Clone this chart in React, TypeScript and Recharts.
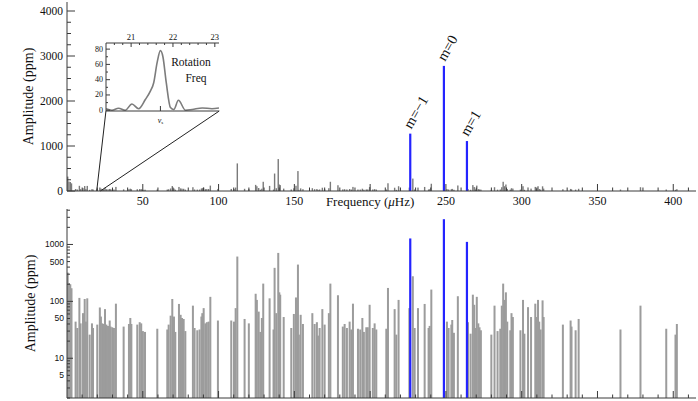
import React from "react";
import { ComposedChart, LineChart, Line, Bar, Cell, XAxis, YAxis, LabelList, ReferenceLine } from "recharts";

// spectrum peaks (uHz, ppm)
const grayFreq = [
  0.5, 1.3, 2.2, 3.0, 5.7, 6.8, 8.2, 9.0, 10.6, 11.7, 12.5, 13.4, 15.0, 16.5, 17.2, 20.0, 21.7, 22.4, 23.3, 24.2,
  25.1, 26.0, 27.1, 28.2, 28.8, 29.9, 31.0, 32.3, 37.4, 40.9, 41.8, 42.5, 46.4, 48.0, 49.0, 50.1, 51.5, 59.6, 66.2, 67.1,
  68.4, 69.5, 70.6, 71.5, 73.9, 75.0, 75.9, 77.0, 78.1, 83.1, 84.2, 86.0, 87.5, 88.7, 89.3, 90.2, 91.3, 92.3, 93.5, 94.6,
  99.6, 108.4, 110.2, 111.3, 112.4, 117.2, 120.0, 124.5, 125.3, 126.5, 127.6, 128.6, 129.5, 133.7, 136.3, 137.0, 138.1, 139.4, 140.1, 140.7,
  143.0, 148.0, 149.7, 151.1, 152.4, 153.0, 154.2, 155.7, 161.9, 163.4, 164.9, 165.6, 166.7, 168.5, 170.0, 172.8, 173.8, 178.8, 182.0, 183.2,
  184.7, 186.5, 187.6, 188.7, 192.0, 193.5, 194.9, 195.9, 197.5, 198.5, 199.7, 201.8, 203.0, 204.1, 210.7, 211.8, 216.2, 217.3, 218.8, 225.9,
  228.2, 229.4, 231.6, 236.0, 238.6, 239.3, 240.4, 250.7, 251.8, 253.6, 254.2, 255.3, 257.9, 264.6, 266.3, 267.8, 268.7, 269.6, 270.4, 271.4,
  272.2, 273.1, 280.0, 282.1, 284.1, 285.9, 286.9, 287.8, 288.7, 289.6, 290.5, 292.5, 293.3, 294.2, 299.2, 300.9, 301.8, 304.2, 306.2, 309.0,
  309.7, 310.8, 311.6, 312.5, 313.8, 314.5, 327.2, 332.3, 332.9, 335.6, 337.6, 365.2, 378.4, 395.4, 401.5, 402.4,
];
const grayAmp = [
  320, 210, 200, 170, 44, 34, 115, 41, 62, 110, 44, 113, 26, 41, 34, 39, 78, 54, 41, 40,
  73, 39, 37, 46, 36, 35, 34, 91, 36, 40, 51, 40, 39, 43, 41, 30, 29, 33, 32, 39,
  56, 110, 54, 29, 90, 58, 51, 49, 30, 84, 34, 31, 32, 54, 62, 76, 41, 43, 44, 120,
  46, 46, 44, 76, 613, 49, 41, 136, 106, 66, 29, 51, 205, 113, 32, 388, 62, 710, 144, 131,
  53, 34, 60, 117, 443, 26, 58, 40, 62, 40, 43, 25, 34, 73, 39, 62, 205, 128, 36, 40,
  34, 44, 32, 91, 33, 32, 51, 29, 35, 35, 87, 34, 41, 32, 33, 172, 73, 26, 106, 76,
  276, 34, 76, 90, 34, 37, 161, 44, 34, 39, 47, 28, 123, 43, 27, 131, 87, 34, 120, 41,
  35, 31, 26, 84, 30, 33, 84, 205, 106, 144, 44, 31, 62, 53, 31, 106, 27, 79, 53, 91,
  53, 106, 44, 32, 104, 53, 39, 46, 36, 31, 49, 32, 84, 33, 26, 40,
];
const modeFreq = [226.5, 248.7, 263.9];
const modeAmp = [1275, 2780, 1110];
const modeLabel = ["m=\u22121", "m=0", "m=1"];

// inset: rotation frequency peak
const insetFreq = [20.4, 20.54, 20.7, 20.86, 21.02, 21.18, 21.34, 21.46, 21.54, 21.62, 21.7, 21.76, 21.84, 21.94, 22.02, 22.13, 22.3, 22.46, 22.7, 22.93, 23.1];
const insetAmp = [2, 0, 2.6, 0, 8.2, 2, 14, 25, 36, 62, 78, 70, 36, 3.5, 1, 13, 0, 1, 3, 2, 3];

// inset zoom connectors: [axis freq, corner freq], corner amplitude
const zoomAxisFreq = [19.6, 22.0];
const zoomCornerFreq = [25.7, 100.5];
const zoomCornerAmp = 1778;

// ticks
const freqTicks = [
  10, 20, 30, 40, 50, 60, 70, 80, 90, 100, 110, 120, 130, 140, 150, 160, 170, 180, 190, 200,
  210, 220, 230, 240, 250, 260, 270, 280, 290, 300, 310, 320, 330, 340, 350, 360, 370, 380, 390, 400, 410,
];
const freqMajor = [50, 100, 150, 200, 250, 300, 350, 400];
const ampTicks = [0, 250, 500, 750, 1000, 1250, 1500, 1750, 2000, 2250, 2500, 2750, 3000, 3250, 3500, 3750, 4000];
const ampMajor = [0, 1000, 2000, 3000, 4000];
const logTicks = [
  2, 3, 4, 5, 6, 7, 8, 9, 10, 20, 30, 40, 50, 60, 70, 80, 90, 100, 200, 300, 400, 500, 600, 700, 800, 900,
  1000, 2000, 3000, 4000,
];
const logMajor = [10, 100, 1000];
const logLabels = [5, 10, 50, 100, 500, 1000];
const insetXTicks = [20.6, 20.8, 21, 21.2, 21.4, 21.6, 21.8, 22, 22.2, 22.4, 22.6, 22.8, 23];
const insetXMajor = [21, 22, 23];
const insetYTicks = [0, 10, 20, 30, 40, 50, 60, 70, 80];
const insetYMajor = [0, 20, 40, 60, 80];
const nuS = 21.7;

const spectrum = [
  ...grayFreq.map((f, i) => ({ freq: f, amp: grayAmp[i], mode: false, label: "" })),
  ...modeFreq.map((f, i) => ({ freq: f, amp: modeAmp[i], mode: true, label: modeLabel[i] })),
];
const insetData = insetFreq.map((f, i) => ({ f, a: insetAmp[i] }));

const AX = "#3a3a3a";
const BLUE = "#2424ff";
const SERIF = "'Liberation Serif', 'Times New Roman', serif";
const SANS = "'Liberation Sans', Arial, sans-serif";

// inward tick marks with optional label
const EdgeTick = (props: any) => {
  const { x, y, payload, side, majors, majLen, minLen, label } = props;
  const v = payload.value;
  const len = majors.includes(v) ? majLen : minLen;
  let line;
  if (side === "left") line = <line x1={x} x2={x + len} y1={y} y2={y} stroke={AX} />;
  else if (side === "right") line = <line x1={x} x2={x - len} y1={y} y2={y} stroke={AX} />;
  else if (side === "top") line = <line x1={x} x2={x} y1={y} y2={y + len} stroke={AX} />;
  else line = <line x1={x} x2={x} y1={y} y2={y - len} stroke={AX} />;
  return (
    <g>
      {line}
      {label ? label(v, x, y) : null}
    </g>
  );
};

const tick = (side: string, majors: number[], majLen: number, minLen: number, label?: any) => (p: any) => (
  <EdgeTick {...p} side={side} majors={majors} majLen={majLen} minLen={minLen} label={label} />
);

const freqLabel = (v: number, x: number, y: number) => {
  if (v === 200)
    return (
      <text x={x} y={y + 10} textAnchor="middle" dominantBaseline="central" fontFamily={SERIF} fontSize={13} fill="#111">
        Frequency (<tspan fontStyle="italic">μ</tspan>Hz)
      </text>
    );
  if (!freqMajor.includes(v)) return null;
  return (
    <text x={x} y={y + 10} textAnchor="middle" dominantBaseline="central" fontFamily={SERIF} fontSize={12} fill="#111">
      {v}
    </text>
  );
};

const ampLabel = (v: number, x: number, y: number) =>
  ampMajor.includes(v) ? (
    <text x={x - 4} y={y} textAnchor="end" dominantBaseline="central" fontFamily={SERIF} fontSize={11.5} fill="#111">
      {v}
    </text>
  ) : null;

const logLabel = (v: number, x: number, y: number) =>
  logLabels.includes(v) ? (
    <text x={x - 3} y={y} textAnchor="end" dominantBaseline="central" fontFamily={SANS} fontSize={8.5} fill="#111">
      {v}
    </text>
  ) : null;

const insetXLabel = (v: number, x: number, y: number) =>
  insetXMajor.includes(v) ? (
    <text x={x} y={y - 6} textAnchor="middle" dominantBaseline="central" fontFamily={SERIF} fontSize={8.5} fill="#111">
      {v}
    </text>
  ) : null;

const insetYLabel = (v: number, x: number, y: number) =>
  insetYMajor.includes(v) ? (
    <text x={x - 3} y={y} textAnchor="end" dominantBaseline="central" fontFamily={SERIF} fontSize={8} fill="#111">
      {v}
    </text>
  ) : null;

const nuLabel = (v: number, x: number, y: number) => (
  <text x={x} y={y + 9} textAnchor="middle" dominantBaseline="central" fontFamily={SERIF} fontSize={8} fill="#111">
    <tspan fontStyle="italic">ν</tspan>
    <tspan fontSize={5} dy={2}>s</tspan>
  </text>
);

const AxisTitle = (cx: number) => (props: any) => {
  const vb = props.viewBox;
  const px = vb.x + cx;
  const py = vb.y + vb.height / 2;
  return (
    <text x={px} y={py} transform={`rotate(-90 ${px} ${py})`} textAnchor="middle" dominantBaseline="central" fontFamily={SERIF} fontSize={14} fill="#111">
      Amplitude (ppm)
    </text>
  );
};

const Spike = (props: any) => {
  const { x, y, width, height, fill, w } = props;
  if (y == null || isNaN(y) || height == null || isNaN(height)) return null;
  const cx = x + width / 2;
  return <rect x={cx - w / 2} y={y} width={w} height={Math.max(height, 0.6)} fill={fill} />;
};

const ModeLabel = (props: any) => {
  const vb = props.viewBox ?? props;
  const { value } = props;
  if (!value) return null;
  const px = vb.x + vb.width / 2 + 1;
  const py = vb.y - 4;
  return (
    <text x={px} y={py} transform={`rotate(-60 ${px} ${py})`} fontFamily={SERIF} fontSize={14.5} fill="#111">
      {value}
    </text>
  );
};

const Spectrum = ({ log, grayW, grayFill }: { log: boolean; grayW: number; grayFill: string }) => {
  const domain = log ? [2, 4200] : [0, 4200];
  const yTicks = log ? logTicks : ampTicks;
  const yMajor = log ? logMajor : ampMajor;
  return (
    <ComposedChart
      width={698}
      height={log ? 214 : 215}
      data={spectrum}
      margin={{ top: 2, right: 2, bottom: 0, left: 0 }}
    >
      <XAxis
        dataKey="freq"
        type="number"
        domain={[0, 415]}
        allowDataOverflow
        ticks={freqTicks}
        interval={0}
        tickSize={0}
        tickMargin={0}
        tickLine={false}
        axisLine={{ stroke: AX }}
        height={log ? 23 : 24}
        tick={tick("bottom", freqMajor, 7, 3.5, log ? undefined : freqLabel)}
      />
      <XAxis
        xAxisId="top"
        orientation="top"
        type="number"
        domain={[0, 415]}
        allowDataOverflow
        ticks={freqTicks}
        interval={0}
        tickSize={0}
        tickMargin={0}
        tickLine={false}
        axisLine={{ stroke: AX }}
        height={0}
        tick={tick("top", freqMajor, 7, 3.5)}
      />
      <YAxis
        type="number"
        scale={log ? "log" : "linear"}
        domain={domain}
        allowDataOverflow
        ticks={yTicks}
        interval={0}
        tickSize={0}
        tickMargin={0}
        tickLine={false}
        axisLine={{ stroke: AX }}
        width={67}
        tick={tick("left", yMajor, log ? 6 : 8, log ? 3 : 4, log ? logLabel : ampLabel)}
        label={{ content: AxisTitle(log ? 30 : 28) }}
      />
      <YAxis
        yAxisId="right"
        orientation="right"
        type="number"
        scale={log ? "log" : "linear"}
        domain={domain}
        allowDataOverflow
        ticks={yTicks}
        interval={0}
        tickSize={0}
        tickMargin={0}
        tickLine={false}
        axisLine={{ stroke: AX }}
        width={0}
        tick={tick("right", yMajor, log ? 6 : 8, log ? 3 : 4)}
      />
      {!log &&
        zoomAxisFreq.map((f, i) => (
          <ReferenceLine
            key={i}
            segment={[
              { x: f, y: 0 },
              { x: zoomCornerFreq[i], y: zoomCornerAmp },
            ]}
            stroke="#222"
            strokeWidth={1}
            ifOverflow="visible"
          />
        ))}
      <Bar
        dataKey="amp"
        barSize={2}
        isAnimationActive={false}
        shape={(p: any) => <Spike {...p} w={p.payload && p.payload.mode ? 2.2 : grayW} />}
      >
        {spectrum.map((d, i) => (
          <Cell key={i} fill={d.mode ? BLUE : grayFill} />
        ))}
        {!log && <LabelList dataKey="label" content={ModeLabel} />}
      </Bar>
    </ComposedChart>
  );
};

const Inset = () => (
  <LineChart width={145} height={104} data={insetData} margin={{ top: 0, right: 2, bottom: 0, left: 0 }}>
    <XAxis
      xAxisId="t"
      orientation="top"
      dataKey="f"
      type="number"
      domain={[20.4, 23.1]}
      allowDataOverflow
      ticks={insetXTicks}
      interval={0}
      tickSize={0}
      tickMargin={0}
      tickLine={false}
      axisLine={{ stroke: AX }}
      height={20}
      tick={tick("top", insetXMajor, 4, 2, insetXLabel)}
    />
    <XAxis
      xAxisId="b"
      orientation="bottom"
      dataKey="f"
      type="number"
      domain={[20.4, 23.1]}
      allowDataOverflow
      ticks={[nuS]}
      interval={0}
      tickSize={0}
      tickMargin={0}
      tickLine={false}
      axisLine={{ stroke: AX }}
      height={16}
      tick={tick("bottom", [nuS], 5, 5, nuLabel)}
    />
    <YAxis
      yAxisId="l"
      type="number"
      domain={[-1, 88]}
      allowDataOverflow
      ticks={insetYTicks}
      interval={0}
      tickSize={0}
      tickMargin={0}
      tickLine={false}
      axisLine={{ stroke: AX }}
      width={30}
      tick={tick("left", insetYMajor, 4, 2, insetYLabel)}
    />
    <YAxis
      yAxisId="r"
      orientation="right"
      type="number"
      domain={[-1, 88]}
      allowDataOverflow
      ticks={insetYTicks}
      interval={0}
      tickSize={0}
      tickMargin={0}
      tickLine={false}
      axisLine={{ stroke: AX }}
      width={0}
      tick={tick("right", insetYMajor, 4, 2)}
    />
    <Line
      xAxisId="b"
      yAxisId="r"
      dataKey="a"
      type="monotone"
      stroke="none"
      strokeWidth={0}
      dot={false}
      isAnimationActive={false}
    />
    <Line
      xAxisId="t"
      yAxisId="l"
      dataKey="a"
      type="monotone"
      stroke="#7c7c7c"
      strokeWidth={1.6}
      dot={false}
      isAnimationActive={false}
    />
  </LineChart>
);

export default function App() {
  return (
    <div
      style={{
        position: "fixed",
        left: 0,
        top: 0,
        width: 698,
        height: 401,
        overflow: "hidden",
        background: "#fff",
      }}
    >
      <div style={{ position: "absolute", left: 0, top: 0 }}>
        <Spectrum log={false} grayW={1.4} grayFill="#7a7a7a" />
      </div>
      <div style={{ position: "absolute", left: 0, top: 207 }}>
        <Spectrum log={true} grayW={2} grayFill="#9c9c9c" />
      </div>
      <div style={{ position: "absolute", left: 76, top: 23 }}>
        <Inset />
      </div>
      <div
        style={{
          position: "absolute",
          left: 161,
          top: 54,
          width: 60,
          textAlign: "center",
          fontFamily: SERIF,
          fontSize: 11.5,
          lineHeight: "16px",
          color: "#111",
        }}
      >
        Rotation
        <br />
        <span style={{ paddingLeft: 10 }}>Freq</span>
      </div>
    </div>
  );
}
